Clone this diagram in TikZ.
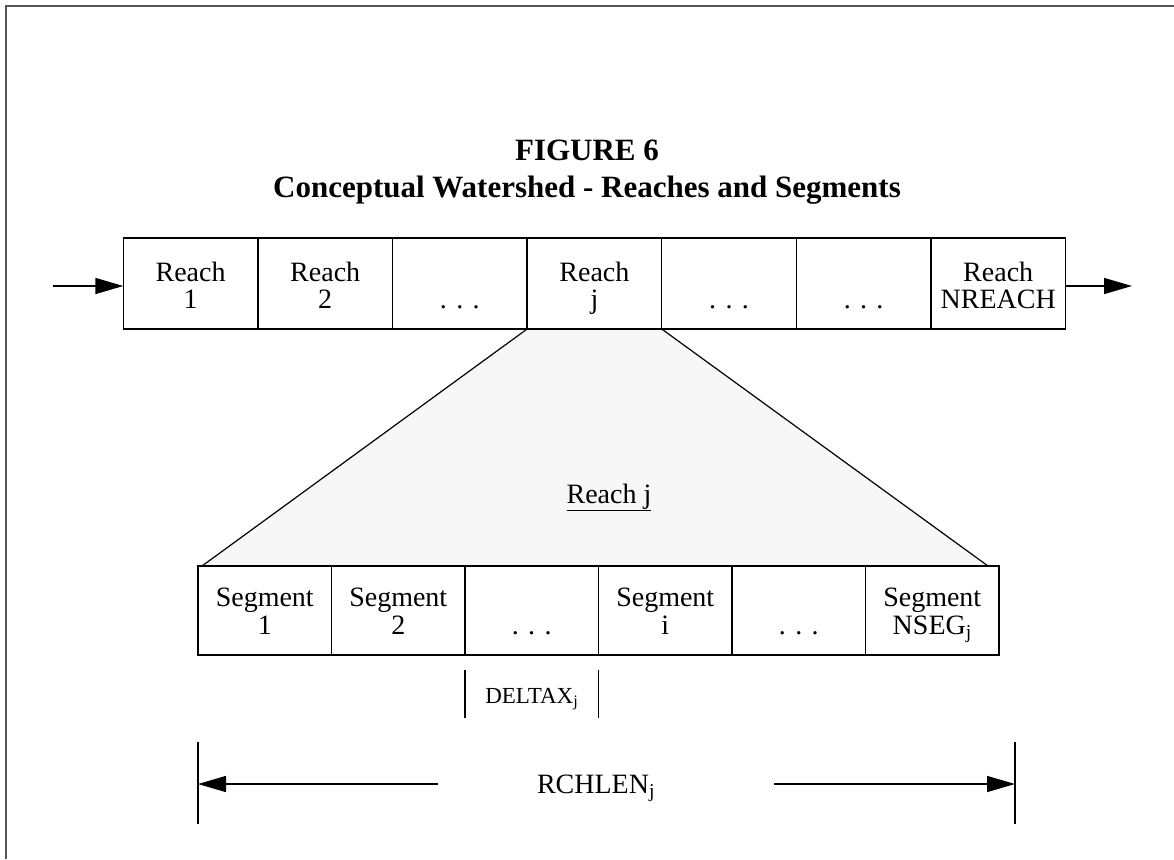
\documentclass[tikz,border=0pt]{standalone}
\usepackage{fontspec}
\setmainfont{Liberation Serif}
\usetikzlibrary{arrows.meta}
\definecolor{framegray}{HTML}{555555}
\definecolor{trapfill}{HTML}{F7F7F7}
\begin{document}
\begin{tikzpicture}[x=1pt,y=-1pt,
  reachcell/.style={draw=black, line width=1.5pt, inner sep=0pt, outer sep=0pt,
    minimum width=134.6pt, minimum height=91pt},
  segcell/.style={draw=black, line width=1.5pt, inner sep=0pt, outer sep=0pt,
    minimum width=133.5pt, minimum height=89pt},
  lbl/.style={font=\fontsize{28}{28}\selectfont, inner sep=0pt, anchor=base},
  smalllbl/.style={font=\fontsize{23}{23}\selectfont, inner sep=0pt, anchor=base},
  titlelbl/.style={font=\fontsize{31}{31}\selectfont\bfseries, inner sep=0pt, anchor=base},
  flow/.style={line width=1.5pt, -{Triangle[length=28pt,width=16pt]}},
  thin/.style={line width=1.2pt}]
\useasboundingbox (0,0) rectangle (1174,859);

% page frame (top and left edges)
\draw[framegray, line width=2pt] (6,859) -- (6,6) -- (1174,6);

% title
\node[titlelbl] (t1) at (587,160) {FIGURE 6};
\node[titlelbl] (t2) at (587,197) {Conceptual Watershed - Reaches and Segments};

% fan-out from reach j to its segments
\coordinate (tL) at (202,566);
\coordinate (tR) at (988,566);
\coordinate (rjL) at (527.1,329);
\coordinate (rjR) at (661.7,329);
\fill[trapfill] (rjL) -- (rjR) -- (tR) -- (tL) -- cycle;
\draw[thin] (rjL) -- (tL);
\draw[thin] (rjR) -- (tR);
\node[lbl] (rjtitle) at (609,503) {\underline{Reach j}};

% row of reaches
\node[reachcell] (r1) at (190.6,283.5) {};
\node[reachcell] (r2) at (325.2,283.5) {};
\node[reachcell] (r3) at (459.8,283.5) {};
\node[reachcell] (rj) at (594.4,283.5) {};
\node[reachcell] (r5) at (729.0,283.5) {};
\node[reachcell] (r6) at (863.6,283.5) {};
\node[reachcell] (rn) at (998.2,283.5) {};

\node[lbl] (r1a) at (r1 |- 0,281) {Reach};
\node[lbl] (r1b) at (r1 |- 0,308) {1};
\node[lbl] (r2a) at (r2 |- 0,281) {Reach};
\node[lbl] (r2b) at (r2 |- 0,308) {2};
\node[lbl] (r3b) at (r3 |- 0,308) {.\,\,.\,\,.};
\node[lbl] (rja) at (rj |- 0,281) {Reach};
\node[lbl] (rjb) at (rj |- 0,308) {j};
\node[lbl] (r5b) at (r5 |- 0,308) {.\,\,.\,\,.};
\node[lbl] (r6b) at (r6 |- 0,308) {.\,\,.\,\,.};
\node[lbl] (rna) at (rn |- 0,281) {Reach};
\node[lbl] (rnb) at (rn |- 0,308) {NREACH};

% inflow and outflow
\coordinate (inflow) at (53,286);
\coordinate (outflow) at (1132,286);
\draw[flow] (inflow) -- (inflow -| r1.west);
\draw[flow] (outflow -| rn.east) -- (outflow);

% row of segments
\node[segcell] (s1) at (264.75,610.5) {};
\node[segcell] (s2) at (398.25,610.5) {};
\node[segcell] (s3) at (531.75,610.5) {};
\node[segcell] (si) at (665.25,610.5) {};
\node[segcell] (s5) at (798.75,610.5) {};
\node[segcell] (sn) at (932.25,610.5) {};

\node[lbl] (s1a) at (s1 |- 0,606) {Segment};
\node[lbl] (s1b) at (s1 |- 0,634) {1};
\node[lbl] (s2a) at (s2 |- 0,606) {Segment};
\node[lbl] (s2b) at (s2 |- 0,634) {2};
\node[lbl] (s3b) at (s3 |- 0,634) {.\,\,.\,\,.};
\node[lbl] (sia) at (si |- 0,606) {Segment};
\node[lbl] (sib) at (si |- 0,634) {i};
\node[lbl] (s5b) at (s5 |- 0,634) {.\,\,.\,\,.};
\node[lbl] (sna) at (sn |- 0,606) {Segment};
\node[lbl] (snb) at (sn |- 0,634) {NSEG\textsubscript{j}};

% segment length
\draw[line width=1.2pt] (s3.south west |- 0,670) -- (s3.south west |- 0,718);
\draw[line width=1.2pt] (s3.south east |- 0,670) -- (s3.south east |- 0,718);
\node[smalllbl] (dx) at (s3 |- 0,703) {DELTAX\textsubscript{j}};

% reach length
\coordinate (lenL) at (198,784);
\coordinate (lenR) at (1015,784);
\coordinate (lenLs) at (438,784);
\coordinate (lenRs) at (774,784);
\draw[line width=1.2pt] (lenL) ++(0,-42) -- ++(0,82);
\draw[line width=1.2pt] (lenR) ++(0,-42) -- ++(0,82);
\draw[flow] (lenLs) -- (lenL);
\draw[flow] (lenRs) -- (lenR);
\node[lbl] (rch) at (596,793) {RCHLEN\textsubscript{j}};
\end{tikzpicture}
\end{document}
